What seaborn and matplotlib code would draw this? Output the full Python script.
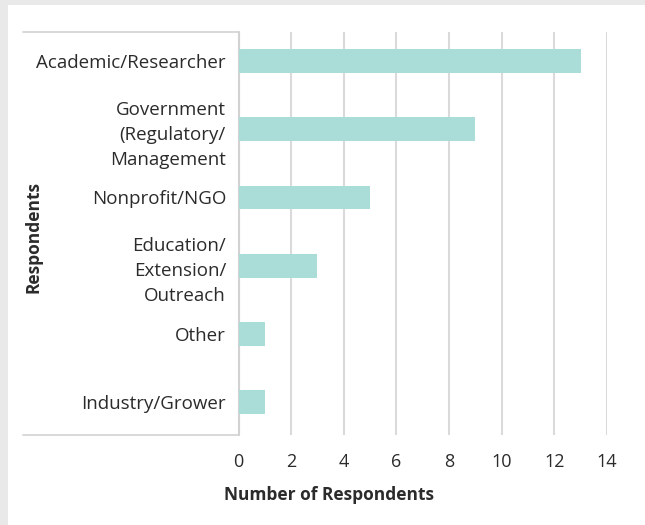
import matplotlib
matplotlib.use("Agg")
import matplotlib.pyplot as plt
from matplotlib.lines import Line2D
from matplotlib.patches import Rectangle
import seaborn as sns
import pandas as pd

categories = [
    "Academic/Researcher",
    "Government\n(Regulatory/\nManagement",
    "Nonprofit/NGO",
    "Education/\nExtension/\nOutreach",
    "Other",
    "Industry/Grower",
]
respondents = [13, 9, 5, 3, 1, 1]
x_ticks = [0, 2, 4, 6, 8, 10, 12, 14]

df = pd.DataFrame({"Role": categories, "Count": respondents})

sns.set_theme(style="white")
plt.rcParams["font.family"] = ["Open Sans", "DejaVu Sans"]

text_color = "#2b2b2b"
bar_color = "#aadcd8"
grid_color = "#dadada"
frame_color = "#d2d2d2"

fig = plt.figure(figsize=(6.45, 5.25), dpi=100, facecolor="white")

# light grey page edge along top and left
fig.patches.append(Rectangle((0, 1 - 5 / 525), 1, 5 / 525, transform=fig.transFigure,
                             facecolor="#e9e9e9", edgecolor="none", zorder=-10))
fig.patches.append(Rectangle((0, 0), 8 / 645, 1, transform=fig.transFigure,
                             facecolor="#e9e9e9", edgecolor="none", zorder=-10))

ax = fig.add_axes([238.5 / 645, 1 - 435 / 525, (607 - 238.5) / 645, (435 - 32) / 525])
ax.set_facecolor("white")

sns.barplot(data=df, x="Count", y="Role", orient="h", color=bar_color,
            width=0.35, saturation=1, linewidth=0, ax=ax, zorder=3)

ax.set_xlim(0, 14)
ax.set_ylim(5.48, -0.425)
ax.set_xticks(x_ticks)
ax.set_xticklabels([str(t) for t in x_ticks])
ax.xaxis.grid(True, color=grid_color, linewidth=1.5)
ax.set_axisbelow(True)
for s in ax.spines.values():
    s.set_visible(False)

ax.tick_params(axis="x", length=0, pad=13, labelsize=13, labelcolor=text_color)
ax.tick_params(axis="y", length=0, pad=9, labelsize=13.5, labelcolor=text_color)
for lab in ax.get_yticklabels():
    lab.set_horizontalalignment("right")
    lab.set_multialignment("right")
    lab.set_linespacing(1.5)

# frame bordering the category labels
frame_left = -(238.5 - 23) / (607 - 238.5)
for y in (0, 1):
    ax.add_line(Line2D([frame_left, 0], [y, y], transform=ax.transAxes,
                       color=frame_color, linewidth=1.2, clip_on=False))
ax.add_line(Line2D([0, 0], [0, 1], transform=ax.transAxes,
                   color=frame_color, linewidth=1.5, clip_on=False))

ax.set_xlabel("")
ax.set_ylabel("")
fig.text(329 / 645, 1 - 495 / 525, "Number of Respondents", ha="center", va="center",
         fontsize=12.5, fontweight="bold", color=text_color)
fig.text(33 / 645, 1 - 237 / 525, "Respondents", ha="center", va="center",
         rotation=90, fontsize=12.5, fontweight="bold", color=text_color)

fig.savefig("out.png", dpi=100, facecolor=fig.get_facecolor())
